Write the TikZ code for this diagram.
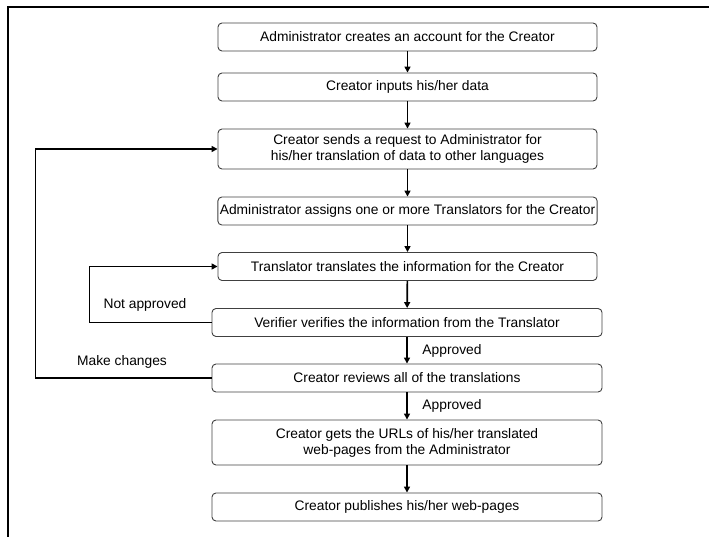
\documentclass[tikz,border=0pt]{standalone}
\usepackage{fontspec}
\setmainfont{Liberation Sans}
\usetikzlibrary{arrows.meta}

\begin{document}
\begin{tikzpicture}[
  x=1pt, y=-1pt,
  step box/.style={draw=black!75,line width=0.9pt,rounded corners=4pt,align=center,inner sep=2pt,font=\fontsize{13.8}{16}\selectfont},
  lbl/.style={font=\fontsize{13.8}{16}\selectfont},
  arr/.style={line width=1.7pt,-{Triangle[length=6pt,width=6pt]}},
  flow/.style={line width=1.7pt}
]
  \useasboundingbox (0,0) rectangle (709,537);
  \draw[line width=1.8pt] (8,537) -- (8,7) -- (709,7);
  \node[step box,minimum width=379,minimum height=28] (create) at (407.5,37) {Administrator creates an account for the Creator};
  \node[step box,minimum width=379,minimum height=28] (input) at (407.5,87) {Creator inputs his/her data};
  \node[step box,minimum width=379,minimum height=40] (request) at (407.5,149) {Creator sends a request to Administrator for\\his/her translation of data to other languages};
  \node[step box,minimum width=379,minimum height=28] (assign) at (407.5,211) {Administrator assigns one or more Translators for the Creator};
  \node[step box,minimum width=379,minimum height=28] (translate) at (407.5,266.5) {Translator translates the information for the Creator};
  \node[step box,minimum width=390,minimum height=28] (verify) at (407,322.5) {Verifier verifies the information from the Translator};
  \node[step box,minimum width=390,minimum height=28] (review) at (407,378) {Creator reviews all of the translations};
  \node[step box,minimum width=390,minimum height=45] (urls) at (407,442.5) {Creator gets the URLs of his/her translated\\web-pages from the Administrator};
  \node[step box,minimum width=390,minimum height=28] (publish) at (407,507) {Creator publishes his/her web-pages};
  \node[lbl] (notok) at (145,305) {Not approved};
  \node[lbl] (change) at (122,362) {Make changes};
  \node[lbl] (ok1) at (452,351) {Approved};
  \node[lbl] (ok2) at (452,406) {Approved};
  \draw[arr] (create) -- (input);
  \draw[arr] (input) -- (request);
  \draw[arr] (request) -- (assign);
  \draw[arr] (assign) -- (translate);
  \draw[arr] (translate) -- (verify);
  \draw[arr] (verify) -- (review);
  \draw[arr] (review) -- (urls);
  \draw[arr] (urls) -- (publish);
  \draw[arr] (verify.west) -- ++(-122,0) |- (translate.west);
  \draw[arr] (review.west) -- ++(-176,0) |- (request.west);
\end{tikzpicture}
\end{document}
